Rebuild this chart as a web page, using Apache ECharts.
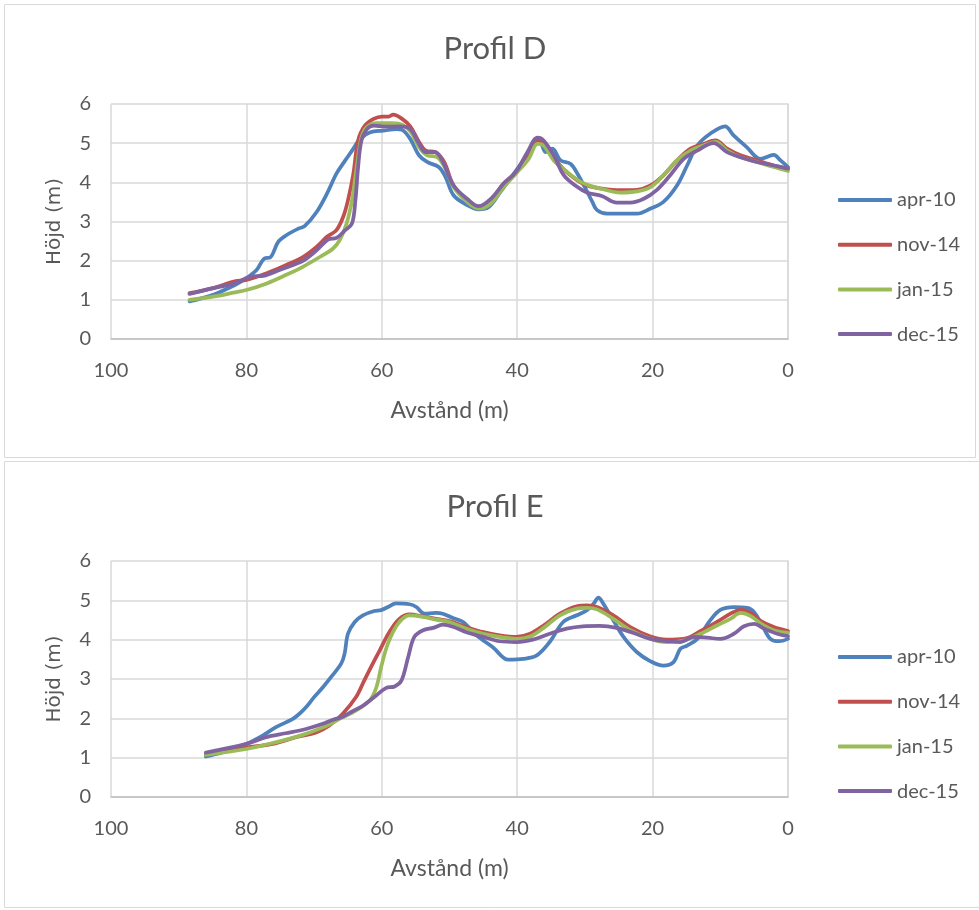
<!DOCTYPE html>
<html>
<head>
<meta charset="utf-8">
<script src="https://cdn.jsdelivr.net/npm/echarts@6/dist/echarts.min.js"></script>
<style>
html,body{margin:0;padding:0;background:#fff;}
#chart{width:979px;height:910px;}
</style>
</head>
<body>
<div id="chart"></div>
<script>
// ---- Data (distance in m, height in m) ----
var seriesNames = ['apr-10', 'nov-14', 'jan-15', 'dec-15'];
var xTicks = [0, 20, 40, 60, 80, 100];
var yTicks = [0, 1, 2, 3, 4, 5, 6];

// Profil D
var dD_apr10 = [88.4, 84.9, 81.7, 80, 78.5, 77.3, 76.5, 75.3, 74.1, 72.3, 71.4, 69.6, 68.1, 66.7, 65.4, 64.4, 63.2, 61.7, 59.8, 57.8, 57.0, 55.8, 54.5, 53.3, 51.6, 50.6, 49.4, 47.4, 45.7, 44.2, 42.5, 40.5, 38.8, 37.5, 36.8, 35.8, 34.8, 33.6, 32.1, 31.1, 29.9, 28.9, 28.2, 26.7, 24.3, 22.3, 20.3, 18.4, 16.4, 14.9, 13.4, 11.5, 9.3, 8.0, 6.1, 4.1, 2.1, 1.1, 0];
var hD_apr10 = [0.96, 1.13, 1.38, 1.55, 1.76, 2.06, 2.08, 2.48, 2.65, 2.82, 2.88, 3.25, 3.71, 4.22, 4.56, 4.81, 5.11, 5.28, 5.32, 5.36, 5.34, 5.11, 4.69, 4.52, 4.39, 4.14, 3.67, 3.42, 3.31, 3.37, 3.75, 4.22, 4.64, 5.03, 5.11, 4.77, 4.86, 4.56, 4.47, 4.22, 3.84, 3.5, 3.29, 3.2, 3.2, 3.2, 3.33, 3.5, 3.92, 4.43, 4.94, 5.24, 5.43, 5.19, 4.9, 4.6, 4.7, 4.56, 4.39];

var dD_nov14 = [88.4, 84.9, 81.7, 80, 77, 74.1, 71.6, 69.6, 68.1, 66.7, 65.7, 65.0, 64.2, 63.5, 62.5, 61.2, 60, 59, 58.3, 57, 55.8, 54.5, 53.5, 52.1, 50.8, 49.4, 47.4, 45.7, 43.9, 42.0, 40.2, 38.5, 37, 36.3, 34.9, 33, 31.1, 29.7, 27.5, 24.8, 22.3, 20.3, 18.4, 16.4, 14.4, 12.5, 10.7, 9.0, 7.0, 4.6, 2.1, 0];
var hD_nov14 = [1.17, 1.3, 1.47, 1.51, 1.68, 1.89, 2.1, 2.36, 2.61, 2.78, 3.12, 3.54, 4.22, 5.07, 5.45, 5.62, 5.68, 5.68, 5.73, 5.62, 5.43, 5.03, 4.81, 4.77, 4.52, 3.92, 3.54, 3.37, 3.54, 3.97, 4.26, 4.69, 5.07, 5.03, 4.69, 4.31, 4.05, 3.92, 3.84, 3.8, 3.81, 3.92, 4.18, 4.56, 4.86, 4.98, 5.07, 4.86, 4.69, 4.56, 4.43, 4.35];

var dD_jan15 = [88.4, 84.9, 81.7, 80, 77, 74.1, 71.6, 69.1, 67.2, 66.2, 65.2, 64.4, 63.7, 63.0, 62.2, 60.7, 58.8, 57.3, 55.8, 54.5, 53.3, 51.8, 50.6, 49.4, 47.4, 45.7, 43.9, 42.0, 40.2, 38.3, 37.0, 36.1, 34.6, 32.6, 30.6, 29.2, 27.5, 24.8, 22.3, 20.3, 18.4, 16.4, 14.4, 12.5, 10.7, 9.0, 7.0, 4.6, 2.1, 0];
var hD_jan15 = [1.0, 1.08, 1.19, 1.25, 1.42, 1.64, 1.85, 2.1, 2.31, 2.53, 2.95, 3.54, 4.39, 5.15, 5.41, 5.51, 5.51, 5.49, 5.3, 4.9, 4.69, 4.64, 4.35, 3.88, 3.5, 3.33, 3.46, 3.88, 4.22, 4.6, 4.98, 4.94, 4.56, 4.26, 4.01, 3.91, 3.83, 3.74, 3.77, 3.88, 4.18, 4.56, 4.81, 4.94, 5.03, 4.81, 4.64, 4.52, 4.39, 4.29];

var dD_dec15 = [88.4, 84.9, 81.7, 79.5, 77.3, 75.1, 73.1, 71.4, 69.6, 67.9, 66.7, 65.4, 64.4, 63.9, 63.5, 63.0, 62.2, 61.2, 59.3, 57.3, 55.8, 54.5, 53.5, 52.1, 51.1, 49.4, 47.4, 45.7, 43.9, 42.0, 40.2, 38.5, 37.0, 36.1, 34.6, 33.1, 31.1, 29.7, 27.5, 25.3, 23.3, 21.3, 19.4, 17.4, 15.4, 13.4, 11.0, 9.0, 7.0, 4.6, 2.1, 0];
var hD_dec15 = [1.15, 1.3, 1.42, 1.59, 1.62, 1.76, 1.89, 2.02, 2.27, 2.54, 2.58, 2.78, 2.95, 3.54, 4.39, 5.07, 5.36, 5.45, 5.42, 5.43, 5.36, 4.98, 4.77, 4.77, 4.56, 3.92, 3.58, 3.39, 3.58, 3.97, 4.26, 4.77, 5.14, 5.07, 4.69, 4.18, 3.88, 3.74, 3.65, 3.48, 3.48, 3.58, 3.8, 4.18, 4.6, 4.81, 5.0, 4.77, 4.64, 4.52, 4.43, 4.35];

// Profil E
var dE_apr10 = [86, 83.6, 80, 77.6, 75.7, 73.2, 72.2, 71.2, 70, 68.7, 67.3, 66, 65.5, 65, 64, 62.8, 61.1, 60.1, 59.1, 57.9, 55.9, 54.9, 53.7, 52, 51, 49.5, 48, 46, 43.6, 41.3, 39.1, 37.1, 35.2, 33.2, 31.2, 29.7, 28.7, 28.0, 27.3, 25.8, 24.3, 22.3, 20.3, 18.4, 16.9, 15.9, 14.9, 13.4, 11.5, 10, 8, 6, 5, 3.8, 2.6, 1.3, 0];
var hE_apr10 = [1.03, 1.13, 1.35, 1.56, 1.77, 1.98, 2.11, 2.28, 2.54, 2.79, 3.09, 3.39, 3.64, 4.15, 4.45, 4.62, 4.73, 4.75, 4.83, 4.92, 4.9, 4.83, 4.66, 4.68, 4.66, 4.55, 4.45, 4.11, 3.81, 3.49, 3.51, 3.6, 3.94, 4.45, 4.62, 4.75, 4.92, 5.07, 4.92, 4.49, 4.07, 3.68, 3.45, 3.34, 3.43, 3.77, 3.85, 4.02, 4.49, 4.76, 4.83, 4.81, 4.7, 4.36, 4.02, 3.96, 4.02];

var dE_nov14 = [86, 80, 76.1, 72.7, 69.7, 67.8, 65.8, 63.8, 62.6, 61.6, 60.3, 58.9, 57.4, 55.9, 53.9, 52, 50, 47.5, 45, 42.6, 40.1, 38.1, 36.1, 33.7, 31.2, 29.7, 28.2, 25.8, 23.3, 20.3, 17.9, 15.4, 12.9, 10.5, 8.5, 7, 5.5, 4, 2.1, 0];
var hE_nov14 = [1.09, 1.26, 1.35, 1.52, 1.64, 1.81, 2.11, 2.54, 2.96, 3.3, 3.73, 4.19, 4.53, 4.64, 4.59, 4.53, 4.47, 4.32, 4.19, 4.11, 4.07, 4.15, 4.36, 4.66, 4.85, 4.87, 4.83, 4.62, 4.32, 4.08, 4.0, 4.02, 4.22, 4.45, 4.66, 4.76, 4.68, 4.47, 4.32, 4.22];

var dE_jan15 = [86, 80, 75.7, 71.7, 68.7, 66.3, 63.8, 61.8, 60.8, 60.1, 59.1, 57.6, 55.9, 53.9, 52, 50, 47.5, 45, 42.6, 40.1, 38.1, 36.1, 33.7, 31.2, 29.7, 28.2, 25.8, 23.3, 20.3, 17.9, 15.4, 12.9, 10.5, 8.5, 7, 5.5, 4, 2.1, 0];
var hE_jan15 = [1.07, 1.22, 1.39, 1.58, 1.77, 1.98, 2.2, 2.45, 2.79, 3.3, 3.9, 4.41, 4.62, 4.58, 4.51, 4.45, 4.28, 4.15, 4.07, 4.02, 4.08, 4.3, 4.62, 4.79, 4.81, 4.77, 4.53, 4.24, 4.02, 3.94, 3.98, 4.15, 4.36, 4.53, 4.68, 4.6, 4.41, 4.24, 4.17];

var dE_dec15 = [86, 80, 77.1, 74.2, 71.2, 68.7, 67.3, 65.8, 64.3, 62.8, 61.1, 59.4, 58.1, 57.1, 56.1, 55.2, 53.9, 52.4, 51, 49.5, 47.5, 45, 42.6, 40.1, 37.7, 35.2, 32.7, 30.3, 27.8, 25.3, 22.8, 20.3, 17.9, 15.9, 13.9, 11.9, 10, 8, 6.5, 5, 3.5, 1.6, 0];
var hE_dec15 = [1.13, 1.35, 1.52, 1.62, 1.73, 1.86, 1.96, 2.04, 2.18, 2.32, 2.54, 2.77, 2.81, 2.96, 3.56, 4.07, 4.24, 4.3, 4.38, 4.33, 4.19, 4.07, 3.96, 3.94, 4.0, 4.15, 4.28, 4.34, 4.35, 4.3, 4.17, 4.02, 3.96, 3.94, 4.07, 4.05, 4.02, 4.15, 4.34, 4.4, 4.28, 4.15, 4.09];

// ---- Build ----
var colors = ['#4F81BD', '#C0504D', '#9BBB59', '#8064A2'];
var FONT = 'Lato, "Open Sans", sans-serif';
var TXT = '#595959';

function pairs(d, h) { return d.map(function (v, i) { return [v, h[i]]; }); }

var panels = [
  { title: 'Profil D', titleY: 49, top: 104, height: 235, legendTop: 185,
    data: [pairs(dD_apr10, hD_apr10), pairs(dD_nov14, hD_nov14), pairs(dD_jan15, hD_jan15), pairs(dD_dec15, hD_dec15)] },
  { title: 'Profil E', titleY: 507, top: 561, height: 236, legendTop: 642,
    data: [pairs(dE_apr10, hE_apr10), pairs(dE_nov14, hE_nov14), pairs(dE_jan15, hE_jan15), pairs(dE_dec15, hE_dec15)] }
];

var option = {
  animation: false,
  color: colors,
  grid: [], xAxis: [], yAxis: [], series: [], legend: [],
  graphic: [
    { type: 'rect', shape: { x: 4.5, y: 4.5, width: 971, height: 453 }, style: { fill: 'none', stroke: '#d9d9d9', lineWidth: 1 }, silent: true },
    { type: 'rect', shape: { x: 4.5, y: 461.5, width: 980, height: 446 }, style: { fill: 'none', stroke: '#d9d9d9', lineWidth: 1 }, silent: true }
  ]
};

panels.forEach(function (p, k) {
  option.graphic.push({ type: 'text', x: 495, y: p.titleY,
    style: { text: p.title, align: 'center', verticalAlign: 'middle', font: '31px ' + FONT, fill: TXT } });
  option.grid.push({ left: 111, top: p.top, width: 677, height: p.height });
  option.xAxis.push({
    gridIndex: k, type: 'value', inverse: true, min: xTicks[0], max: xTicks[xTicks.length - 1], interval: 20,
    name: 'Avstånd (m)', nameLocation: 'middle', nameGap: 60,
    nameTextStyle: { fontFamily: FONT, fontSize: 23, color: TXT },
    axisLine: { show: true, lineStyle: { color: '#bfbfbf', width: 1.5 } },
    axisTick: { show: false },
    axisLabel: { margin: 22, fontFamily: FONT, fontSize: 20, color: TXT },
    splitLine: { show: true, lineStyle: { color: '#d9d9d9', width: 1.5 } }
  });
  option.yAxis.push({
    gridIndex: k, type: 'value', min: yTicks[0], max: yTicks[yTicks.length - 1], interval: 1,
    name: 'Höjd (m)', nameLocation: 'middle', nameGap: 46, nameRotate: 90,
    nameTextStyle: { fontFamily: '"DejaVu Sans", sans-serif', fontSize: 20, color: TXT },
    axisLine: { show: true, lineStyle: { color: '#d9d9d9', width: 1.5 } },
    axisTick: { show: false },
    axisLabel: { margin: 20, fontFamily: FONT, fontSize: 20, color: TXT },
    splitLine: { show: true, lineStyle: { color: '#d9d9d9', width: 1.5 } }
  });
  option.legend.push({
    data: seriesNames, orient: 'vertical', left: 833, top: p.legendTop,
    icon: 'roundRect', itemWidth: 54, itemHeight: 4, itemGap: 24.7,
    textStyle: { fontFamily: FONT, fontSize: 20, color: TXT, lineHeight: 20 },
    selectedMode: false
  });
  seriesNames.forEach(function (n, i) {
    option.series.push({
      name: n, type: 'line', xAxisIndex: k, yAxisIndex: k,
      data: p.data[i], smooth: 0.35, symbol: 'none', showSymbol: false,
      lineStyle: { width: 3.75, color: colors[i], cap: 'round', join: 'round' },
      itemStyle: { color: colors[i] }, z: 2 + i
    });
  });
});

var chart = echarts.init(document.getElementById('chart'), null, { renderer: 'canvas' });
chart.setOption(option);
</script>
</body>
</html>
